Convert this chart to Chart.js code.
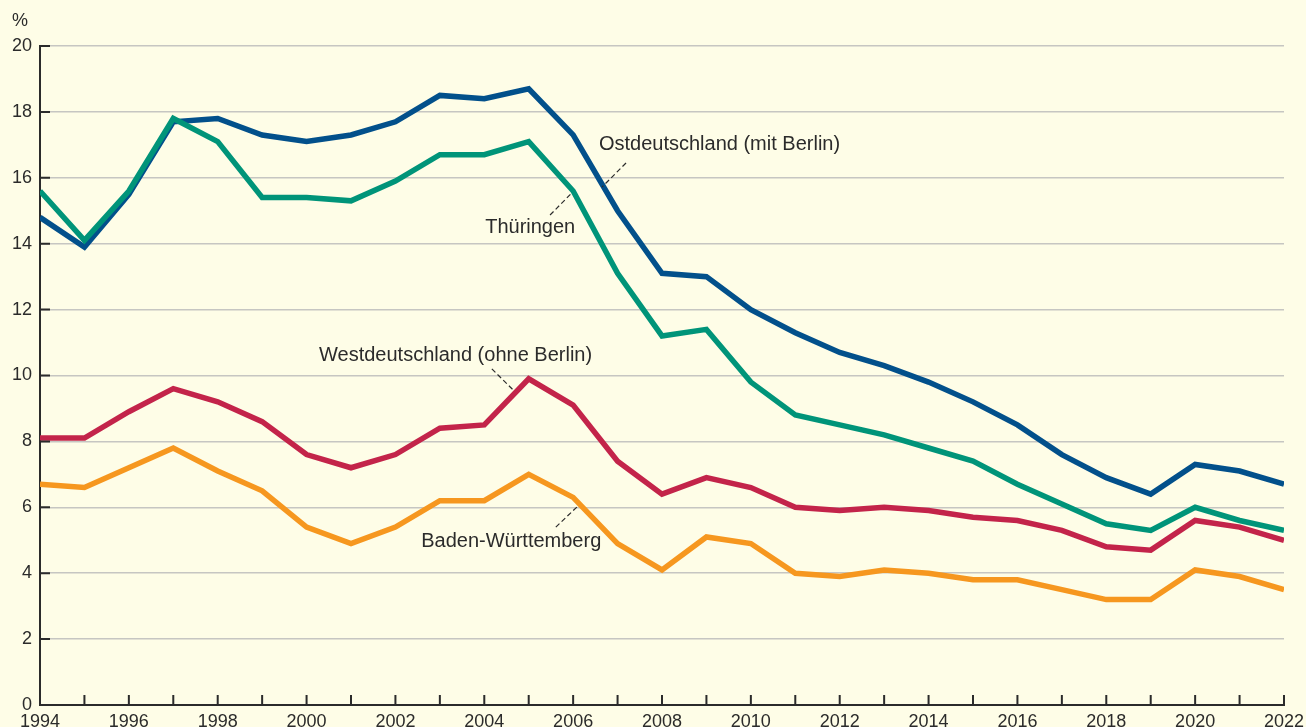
<!DOCTYPE html>
<html>
<head>
<meta charset="utf-8">
<script src="https://cdn.jsdelivr.net/npm/chart.js@4.4.1/dist/chart.umd.min.js"></script>
<style>
    html, body { margin: 0; padding: 0; background: #fefde7; }
    #wrap { width: 1306px; height: 727px; position: relative; }
</style>
</head>
<body>
<div id="wrap"><canvas id="chart"></canvas></div>
<script>
// Arbeitslosenquote 1994-2022, in %
const years = [1994, 1995, 1996, 1997, 1998, 1999, 2000, 2001, 2002, 2003, 2004, 2005, 2006, 2007,
    2008, 2009, 2010, 2011, 2012, 2013, 2014, 2015, 2016, 2017, 2018, 2019, 2020, 2021, 2022];

const ostdeutschland = [14.8, 13.9, 15.5, 17.7, 17.8, 17.3, 17.1, 17.3, 17.7, 18.5, 18.4, 18.7, 17.3, 15.0,
    13.1, 13.0, 12.0, 11.3, 10.7, 10.3, 9.8, 9.2, 8.5, 7.6, 6.9, 6.4, 7.3, 7.1, 6.7];
const thueringen = [15.6, 14.1, 15.6, 17.8, 17.1, 15.4, 15.4, 15.3, 15.9, 16.7, 16.7, 17.1, 15.6, 13.1,
    11.2, 11.4, 9.8, 8.8, 8.5, 8.2, 7.8, 7.4, 6.7, 6.1, 5.5, 5.3, 6.0, 5.6, 5.3];
const westdeutschland = [8.1, 8.1, 8.9, 9.6, 9.2, 8.6, 7.6, 7.2, 7.6, 8.4, 8.5, 9.9, 9.1, 7.4,
    6.4, 6.9, 6.6, 6.0, 5.9, 6.0, 5.9, 5.7, 5.6, 5.3, 4.8, 4.7, 5.6, 5.4, 5.0];
const badenWuerttemberg = [6.7, 6.6, 7.2, 7.8, 7.1, 6.5, 5.4, 4.9, 5.4, 6.2, 6.2, 7.0, 6.3, 4.9,
    4.1, 5.1, 4.9, 4.0, 3.9, 4.1, 4.0, 3.8, 3.8, 3.5, 3.2, 3.2, 4.1, 3.9, 3.5];

const yTicks = [0, 2, 4, 6, 8, 10, 12, 14, 16, 18, 20];

// Beschriftungen mit Hinweislinie, in Datenkoordinaten
const labels = [
    { text: 'Ostdeutschland (mit Berlin)', x: 2006.58, y: 17.0, from: [2007.19, 16.45], to: [2006.65, 15.72] },
    { text: 'Thüringen', x: 2004.02, y: 14.48, from: [2005.48, 14.87], to: [2005.97, 15.54] },
    { text: 'Westdeutschland (ohne Berlin)', x: 2000.28, y: 10.62, from: [2004.17, 10.20], to: [2004.65, 9.56] },
    { text: 'Baden-Württemberg', x: 2002.58, y: 4.95, from: [2005.61, 5.40], to: [2006.11, 6.04] }
];

const colors = {
    ost: '#02508b',
    thue: '#009479',
    west: '#c3244a',
    bw: '#f6971f',
    text: '#2b2b2b',
    axis: '#2b2b2b',
    grid: '#c6c6c2',
    bg: '#fefde7'
};

const fontFamily = '"Liberation Sans", "Noto Sans", Arial, sans-serif';

const toPoints = (values) => years.map((yr, i) => ({ x: yr, y: values[i] }));

const series = (data, color, order) => ({
    data: toPoints(data),
    borderColor: color,
    borderWidth: 5.5,
    borderJoinStyle: 'miter',
    pointRadius: 0,
    tension: 0,
    fill: false,
    order: order
});

// Innenliegende Striche an den Achsen, Prozentzeichen, Beschriftungen
const decorations = {
    id: 'decorations',
    afterDatasetsDraw(chart) {
        const { ctx, chartArea, scales: { x, y } } = chart;
        ctx.save();
        ctx.strokeStyle = colors.axis;
        ctx.lineWidth = 2;
        ctx.beginPath();
        years.forEach(yr => {
            const px = x.getPixelForValue(yr);
            ctx.moveTo(px, chartArea.bottom);
            ctx.lineTo(px, chartArea.bottom - 10);
        });
        yTicks.forEach(v => {
            const py = y.getPixelForValue(v);
            ctx.moveTo(chartArea.left, py);
            ctx.lineTo(chartArea.left + 10, py);
        });
        ctx.stroke();

        ctx.fillStyle = colors.text;
        ctx.font = '18px ' + fontFamily;
        ctx.textBaseline = 'middle';
        ctx.textAlign = 'left';
        ctx.fillText('%', 12, 21);

        ctx.font = '20px ' + fontFamily;
        labels.forEach(l => {
            ctx.fillText(l.text, x.getPixelForValue(l.x), y.getPixelForValue(l.y));
            ctx.beginPath();
            ctx.setLineDash([5, 3]);
            ctx.lineWidth = 1.2;
            ctx.moveTo(x.getPixelForValue(l.from[0]), y.getPixelForValue(l.from[1]));
            ctx.lineTo(x.getPixelForValue(l.to[0]), y.getPixelForValue(l.to[1]));
            ctx.stroke();
            ctx.setLineDash([]);
        });
        ctx.restore();
    }
};

const bgPlugin = {
    id: 'bg',
    beforeDraw(chart) {
        const ctx = chart.ctx;
        ctx.save();
        ctx.fillStyle = colors.bg;
        ctx.fillRect(0, 0, chart.width, chart.height);
        ctx.restore();
    }
};

new Chart(document.getElementById('chart'), {
    type: 'line',
    data: {
        datasets: [
            series(ostdeutschland, colors.ost, 2),
            series(thueringen, colors.thue, 1),
            series(westdeutschland, colors.west, 3),
            series(badenWuerttemberg, colors.bw, 4)
        ]
    },
    options: {
        responsive: true,
        maintainAspectRatio: false,
        animation: false,
        layout: { padding: { top: 46, right: 22, left: 0, bottom: 0 } },
        plugins: {
            legend: { display: false },
            tooltip: { enabled: false }
        },
        scales: {
            x: {
                type: 'linear',
                min: 1994,
                max: 2022,
                afterFit: (scale) => {
                    scale.height = 22;
                    scale.paddingLeft = 0;
                    scale.paddingRight = 0;
                },
                grid: { display: false, drawTicks: false },
                border: { display: true, color: colors.axis, width: 2 },
                ticks: {
                    stepSize: 1,
                    autoSkip: false,
                    maxRotation: 0,
                    padding: 6,
                    color: colors.text,
                    font: { family: fontFamily, size: 18 },
                    callback: (v) => (v % 2 === 0 ? String(v) : '')
                }
            },
            y: {
                min: 0,
                max: 20,
                afterFit: (scale) => { scale.width = 40; },
                grid: { color: colors.grid, lineWidth: 1.5, drawTicks: false },
                border: { display: true, color: colors.axis, width: 2 },
                ticks: {
                    stepSize: 2,
                    padding: 8,
                    color: colors.text,
                    font: { family: fontFamily, size: 18 }
                }
            }
        }
    },
    plugins: [bgPlugin, decorations]
});
</script>
</body>
</html>
